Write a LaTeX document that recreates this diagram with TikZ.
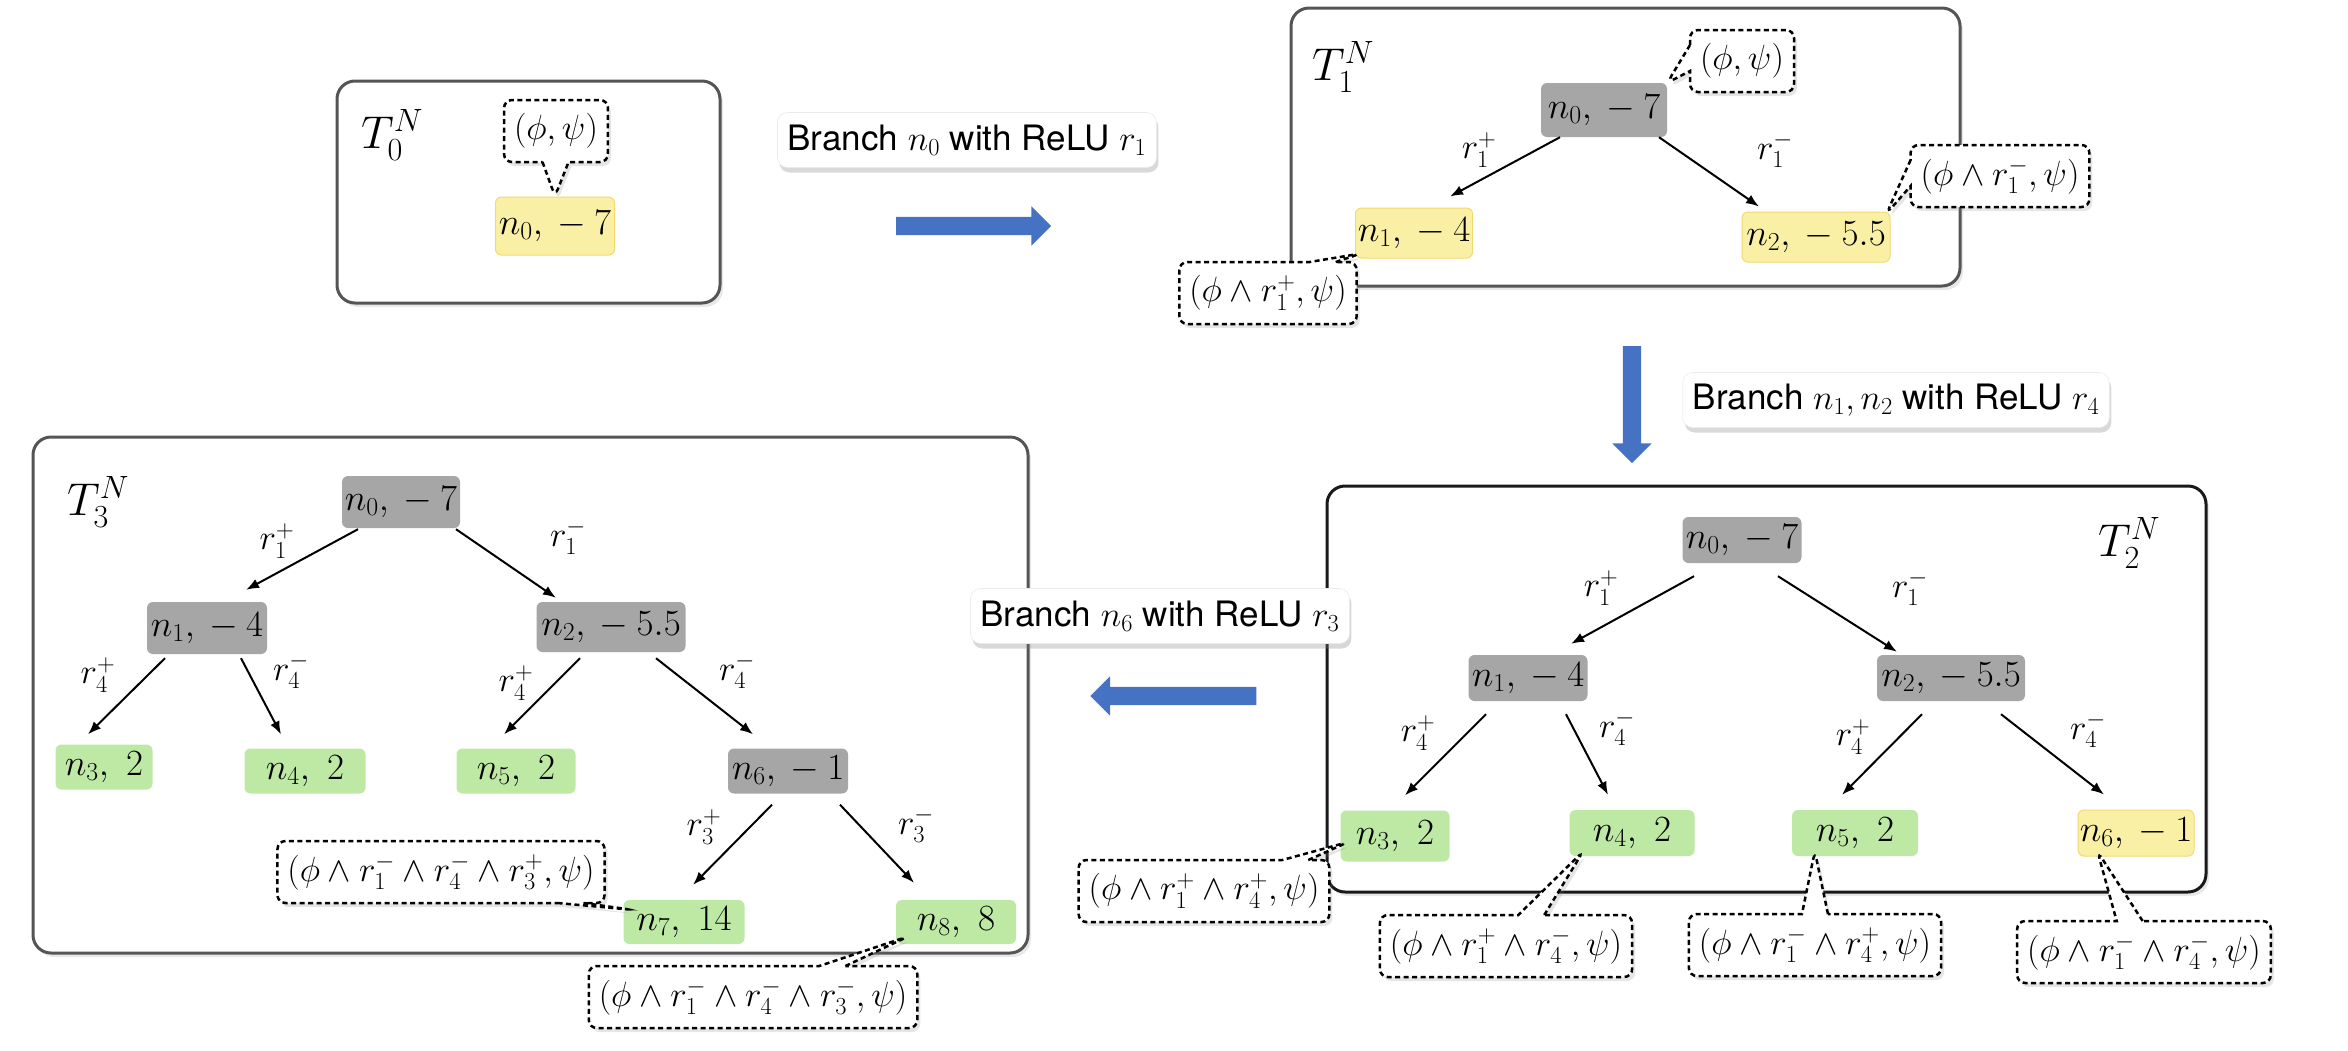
\RequirePackage{fix-cm}
\documentclass[tikz,border=0pt]{standalone}
\usepackage{fontspec}
\setsansfont{TeX Gyre Heros}
\usetikzlibrary{arrows.meta, positioning, calc, shapes.callouts, shapes.arrows, shadows}

\definecolor{framegray}{RGB}{85,85,85}
\definecolor{donegray}{RGB}{166,166,166}
\definecolor{openyellow}{RGB}{250,240,165}
\definecolor{openedge}{RGB}{243,218,110}
\definecolor{leafgreen}{RGB}{190,233,165}
\definecolor{flowblue}{RGB}{70,114,196}

\begin{document}
\begin{tikzpicture}[
        x=1pt, y=-1pt,
        frame/.style={draw=framegray, line width=3pt, rounded corners=18pt, fill=white,
            drop shadow={shadow xshift=3pt, shadow yshift=-4pt, opacity=0.18}},
        tnode/.style={rectangle, rounded corners=6pt, inner sep=0pt, minimum height=46pt, font=\fontsize{37}{42}\selectfont},
        open/.style={tnode, fill=openyellow, draw=openedge, line width=1pt},
        done/.style={tnode, fill=donegray},
        leaf/.style={tnode, fill=leafgreen},
        cond/.style={rectangle callout, draw=black, dash pattern=on 5pt off 3.5pt, line width=2.5pt, rounded corners=8pt,
            fill=white, inner xsep=10pt, minimum height=62pt, callout pointer width=26pt, font=\fontsize{35}{40}\selectfont,
            drop shadow={shadow xshift=3pt, shadow yshift=-4pt, opacity=0.2}},
        rlab/.style={inner sep=0pt, font=\fontsize{35}{40}\selectfont},
        tlab/.style={inner sep=0pt, font=\fontsize{46}{52}\selectfont},
        branchbox/.style={rectangle, rounded corners=10pt, fill=white, draw=black!8, line width=0.6pt, inner xsep=10pt,
            minimum height=55pt, font=\sffamily\fontsize{35}{42}\selectfont,
            drop shadow={shadow xshift=2pt, shadow yshift=-5pt, opacity=0.3}},
        bigarrow/.style={single arrow, fill=flowblue, inner sep=9pt, minimum width=39pt,
            single arrow head extend=10.5pt, single arrow tip angle=90},
        treearrow/.style={-{Latex[length=13pt,width=10pt]}, line width=2pt}
    ]
    \useasboundingbox (0,0) rectangle (2348,1050);

    % frames of the four trees
    \draw[frame] (337,81) rectangle (720,303);
    \draw[frame] (1291,8) rectangle (1960,286);
    \draw[frame, draw=black!90] (1327,486) rectangle (2206,892);
    \draw[frame] (33,437) rectangle (1028,953);

    % T_0
    \node[tlab] (t0lab) at (392,135) {$T_0^N$};
    \node[open, minimum width=119pt, minimum height=58pt] (t0n0) at (555,226) {$n_0,{}-7$};

    % T_1
    \node[tlab] (t1lab) at (1343,67) {$T_1^N$};
    \node[done, minimum width=126pt, minimum height=54pt] (t1n0) at (1604,110) {$n_0,{}-7$};
    \node[open, minimum width=117pt, minimum height=50pt] (t1n1) at (1414,233) {$n_1,{}-4$};
    \node[open, minimum width=148pt, minimum height=50pt] (t1n2) at (1816,237) {$n_2,{}-5.5$};
    \draw[treearrow] ($(t1n0.south)+(-44,0)$) -- ($(t1n1.north)+(36,-11)$);
    \draw[treearrow] ($(t1n0.south)+(55,0)$) -- ($(t1n2.north)+(-57,-5)$);
    \node[rlab] (t1r1p) at (1479,150) {$r_1^+$};
    \node[rlab] (t1r1m) at (1775,150) {$r_1^-$};

    % T_2
    \node[tlab] (t2lab) at (2129,543) {$T_2^N$};
    \node[done, minimum width=119pt] (t2n0) at (1742,540) {$n_0,{}-7$};
    \node[done, minimum width=119pt] (t2n1) at (1528,678) {$n_1,{}-4$};
    \node[done, minimum width=148pt] (t2n2) at (1951,678) {$n_2,{}-5.5$};
    \node[leaf, minimum width=109pt, minimum height=51pt] (t2n3) at (1395,836) {$n_3,\ 2$};
    \node[leaf, minimum width=125pt] (t2n4) at (1632,833) {$n_4,\ 2$};
    \node[leaf, minimum width=126pt] (t2n5) at (1855,833) {$n_5,\ 2$};
    \node[open, minimum width=116pt] (t2n6) at (2136,833) {$n_6,{}-1$};
    \draw[treearrow] ($(t2n0.south)+(-48,13)$) -- ($(t2n1.north)+(43,-11)$);
    \draw[treearrow] ($(t2n0.south)+(36,13)$) -- ($(t2n2.north)+(-54,-3)$);
    \draw[treearrow] ($(t2n1.south)+(-42,13)$) -- ($(t2n3.north)+(10,-15)$);
    \draw[treearrow] ($(t2n1.south)+(38,13)$) -- ($(t2n4.north)+(-24,-15)$);
    \draw[treearrow] ($(t2n2.south)+(-29,13)$) -- ($(t2n5.north)+(-13,-15)$);
    \draw[treearrow] ($(t2n2.south)+(50,13)$) -- ($(t2n6.north)+(-32,-15)$);
    \node[rlab] (t2r1p) at (1601,588) {$r_1^+$};
    \node[rlab] (t2r1m) at (1910,588) {$r_1^-$};
    \node[rlab] (t2r4pa) at (1418,733) {$r_4^+$};
    \node[rlab] (t2r4ma) at (1617,728) {$r_4^-$};
    \node[rlab] (t2r4pb) at (1853,737) {$r_4^+$};
    \node[rlab] (t2r4mb) at (2088,730) {$r_4^-$};

    % T_3
    \node[tlab] (t3lab) at (98,502) {$T_3^N$};
    \node[done, minimum width=118pt, minimum height=52pt] (t3n0) at (401,502) {$n_0,{}-7$};
    \node[done, minimum width=120pt, minimum height=52pt] (t3n1) at (207,628) {$n_1,{}-4$};
    \node[done, minimum width=149pt, minimum height=50pt] (t3n2) at (611,627) {$n_2,{}-5.5$};
    \node[leaf, minimum width=97pt, minimum height=45pt] (t3n3) at (104,767) {$n_3,\ 2$};
    \node[leaf, minimum width=121pt, minimum height=45pt] (t3n4) at (305,771) {$n_4,\ 2$};
    \node[leaf, minimum width=119pt, minimum height=45pt] (t3n5) at (516,771) {$n_5,\ 2$};
    \node[done, minimum width=120pt, minimum height=45pt] (t3n6) at (788,771) {$n_6,{}-1$};
    \node[leaf, minimum width=121pt, minimum height=44pt] (t3n7) at (684,922) {$n_7,\ 14$};
    \node[leaf, minimum width=120pt, minimum height=44pt] (t3n8) at (956,922) {$n_8,\ 8$};
    \draw[treearrow] ($(t3n0.south)+(-43,1)$) -- ($(t3n1.north)+(39,-12)$);
    \draw[treearrow] ($(t3n0.south)+(55,1)$) -- ($(t3n2.north)+(-55,-4)$);
    \draw[treearrow] ($(t3n1.south)+(-42,4)$) -- ($(t3n3.north)+(-16,-10)$);
    \draw[treearrow] ($(t3n1.south)+(34,4)$) -- ($(t3n4.north)+(-24,-14)$);
    \draw[treearrow] ($(t3n2.south)+(-31,6)$) -- ($(t3n5.north)+(-12,-14)$);
    \draw[treearrow] ($(t3n2.south)+(45,6)$) -- ($(t3n6.north)+(-35,-14)$);
    \draw[treearrow] ($(t3n6.south)+(-16,11)$) -- ($(t3n7.north)+(9,-15)$);
    \draw[treearrow] ($(t3n6.south)+(52,11)$) -- ($(t3n8.north)+(-42,-17)$);
    \node[rlab] (t3r1p) at (277,541) {$r_1^+$};
    \node[rlab] (t3r1m) at (568,537) {$r_1^-$};
    \node[rlab] (t3r4pa) at (98,675) {$r_4^+$};
    \node[rlab] (t3r4ma) at (291,671) {$r_4^-$};
    \node[rlab] (t3r4pb) at (516,683) {$r_4^+$};
    \node[rlab] (t3r4mb) at (737,671) {$r_4^-$};
    \node[rlab] (t3r3p) at (704,827) {$r_3^+$};
    \node[rlab] (t3r3m) at (916,825) {$r_3^-$};

    % branching steps
    \node[branchbox] (step1) at (967,140) {Branch $n_0$ with ReLU $r_1$};
    \node[bigarrow, minimum height=155pt] (flow1) at (969,226) {};
    \node[branchbox] (step2) at (1896,400) {Branch $n_1, n_2$ with ReLU $r_4$};
    \node[bigarrow, minimum height=117pt, shape border rotate=270] (flow2) at (1632,400) {};
    \node[branchbox] (step3) at (1160,616) {Branch $n_6$ with ReLU $r_3$};
    \node[bigarrow, minimum height=166pt, shape border rotate=180] (flow3) at (1178,696) {};

    % conditions attached to open nodes
    \node[cond, callout absolute pointer={(t0n0.north)}] (t0c0) at (556,131) {$(\phi,\psi)$};
    \node[cond, callout absolute pointer={(t1n0.north east)}] (t1c0) at (1742,61) {$(\phi,\psi)$};
    \node[cond, callout absolute pointer={($(t1n1.south west)+(6,-5)$)}] (t1c1) at (1268,293) {$(\phi\wedge r_1^+,\psi)$};
    \node[cond, callout absolute pointer={($(t1n2.north east)+(-4,2)$)}] (t1c2) at (2000,176) {$(\phi\wedge r_1^-,\psi)$};
    \node[cond, callout absolute pointer={($(t2n3.west)+(8,6)$)}] (t2c3) at (1204,891) {$(\phi\wedge r_1^+\wedge r_4^+,\psi)$};
    \node[cond, callout absolute pointer={($(t2n4.south west)+(14,-5)$)}] (t2c4) at (1506,946) {$(\phi\wedge r_1^+\wedge r_4^-,\psi)$};
    \node[cond, callout absolute pointer={($(t2n5.south west)+(23,-5)$)}] (t2c5) at (1815,945) {$(\phi\wedge r_1^-\wedge r_4^+,\psi)$};
    \node[cond, callout absolute pointer={($(t2n6.south west)+(20,-5)$)}] (t2c6) at (2144,952) {$(\phi\wedge r_1^-\wedge r_4^-,\psi)$};
    \node[cond, callout absolute pointer={($(t3n7.north west)+(9,10)$)}] (t3c7) at (441,872) {$(\phi\wedge r_1^-\wedge r_4^-\wedge r_3^+,\psi)$};
    \node[cond, callout absolute pointer={($(t3n8.south west)+(13,-8)$)}] (t3c8) at (753,997) {$(\phi\wedge r_1^-\wedge r_4^-\wedge r_3^-,\psi)$};
\end{tikzpicture}
\end{document}
